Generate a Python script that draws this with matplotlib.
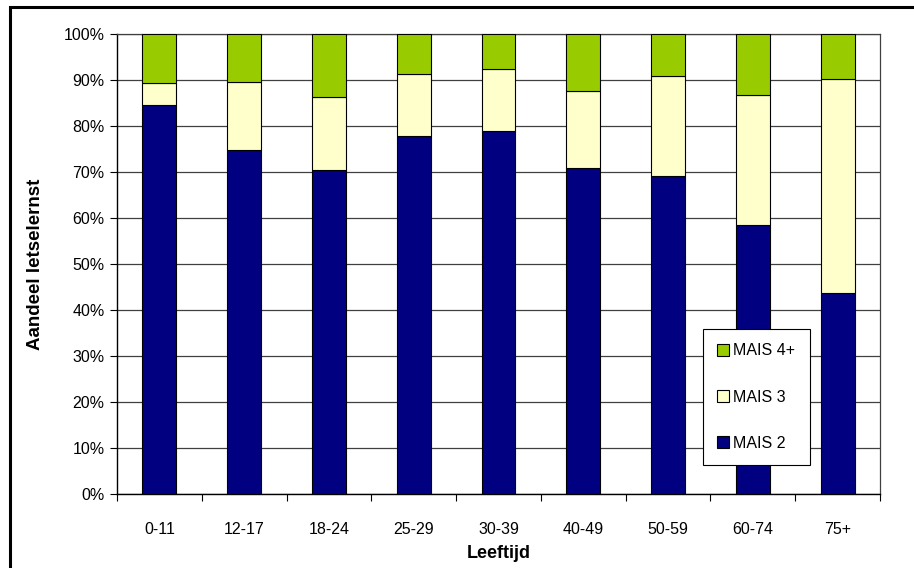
import matplotlib as mpl
mpl.use('Agg')
import matplotlib.pyplot as plt
import numpy as np
from matplotlib.patches import Rectangle

plt.rcParams['font.family'] = ['Liberation Sans', 'DejaVu Sans']

categories = ['0-11', '12-17', '18-24', '25-29', '30-39', '40-49', '50-59', '60-74', '75+']
mais2 = [84.5, 74.8, 70.4, 77.8, 79.0, 70.9, 69.2, 58.5, 43.6]
mais3 = [4.8, 14.7, 15.8, 13.6, 13.3, 16.7, 21.6, 28.3, 46.6]
mais4 = [100 - a - b for a, b in zip(mais2, mais3)]

c_mais2 = '#000080'
c_mais3 = '#FFFFCC'
c_mais4 = '#99CC00'

fig = plt.figure(figsize=(9.14, 5.68), dpi=100)
ax = fig.add_axes([117/914, 1 - 494/568, 763/914, 460/568])

x = np.arange(len(categories))
w = 0.4
b2 = ax.bar(x, mais2, w, color=c_mais2, edgecolor='black', linewidth=0.8, label='MAIS 2', zorder=3)
b3 = ax.bar(x, mais3, w, bottom=mais2, color=c_mais3, edgecolor='black', linewidth=0.8, label='MAIS 3', zorder=3)
b4 = ax.bar(x, mais4, w, bottom=np.array(mais2) + np.array(mais3), color=c_mais4,
            edgecolor='black', linewidth=0.8, label='MAIS 4+', zorder=3)

ax.set_xlim(-0.5, len(categories) - 0.5)
ax.set_ylim(0, 100)
ax.set_yticks(np.arange(0, 101, 10))
ax.set_yticklabels([f'{v}%' for v in range(0, 101, 10)], fontsize=11.5)
ax.yaxis.grid(True, color='#404040', linewidth=0.9, zorder=0)
ax.set_axisbelow(True)

ax.set_xticks(x)
ax.set_xticklabels(categories, fontsize=11.5)
ax.set_xticks(np.arange(-0.5, len(categories), 1), minor=True)
ax.tick_params(axis='x', which='major', length=0, pad=20)
ax.tick_params(axis='x', which='minor', length=5, width=0.8, direction='out')
ax.tick_params(axis='y', length=5, width=0.8, direction='out', pad=4)

for s in ['left', 'bottom']:
    ax.spines[s].set_color('black')
    ax.spines[s].set_linewidth(1)
for s in ['top', 'right']:
    ax.spines[s].set_color('#404040')
    ax.spines[s].set_linewidth(0.9)

ax.set_xlabel('Leeftijd', fontsize=13, fontweight='bold', labelpad=6)
ax.set_ylabel('Aandeel letselernst', fontsize=13.5, fontweight='bold', labelpad=14)

leg = ax.legend(handles=[b4, b3, b2], loc='upper left',
                bbox_to_anchor=((703 - 117) / 763, (494 - 329) / 460),
                fontsize=11.5, frameon=True, fancybox=False, framealpha=1,
                edgecolor='black', labelspacing=1.95, handlelength=0.75, handleheight=0.75,
                handletextpad=0.25, borderpad=0.9, borderaxespad=0)
leg.get_frame().set_linewidth(0.8)
leg.set_zorder(5)

# outer frame (only top and left edges visible in the crop)
fig.patches.append(Rectangle((10/914, -0.1), 1.2, 1 - 7/568 + 0.1, transform=fig.transFigure,
                             fill=False, edgecolor='black', linewidth=2.2))

fig.savefig('out.png', dpi=100)
